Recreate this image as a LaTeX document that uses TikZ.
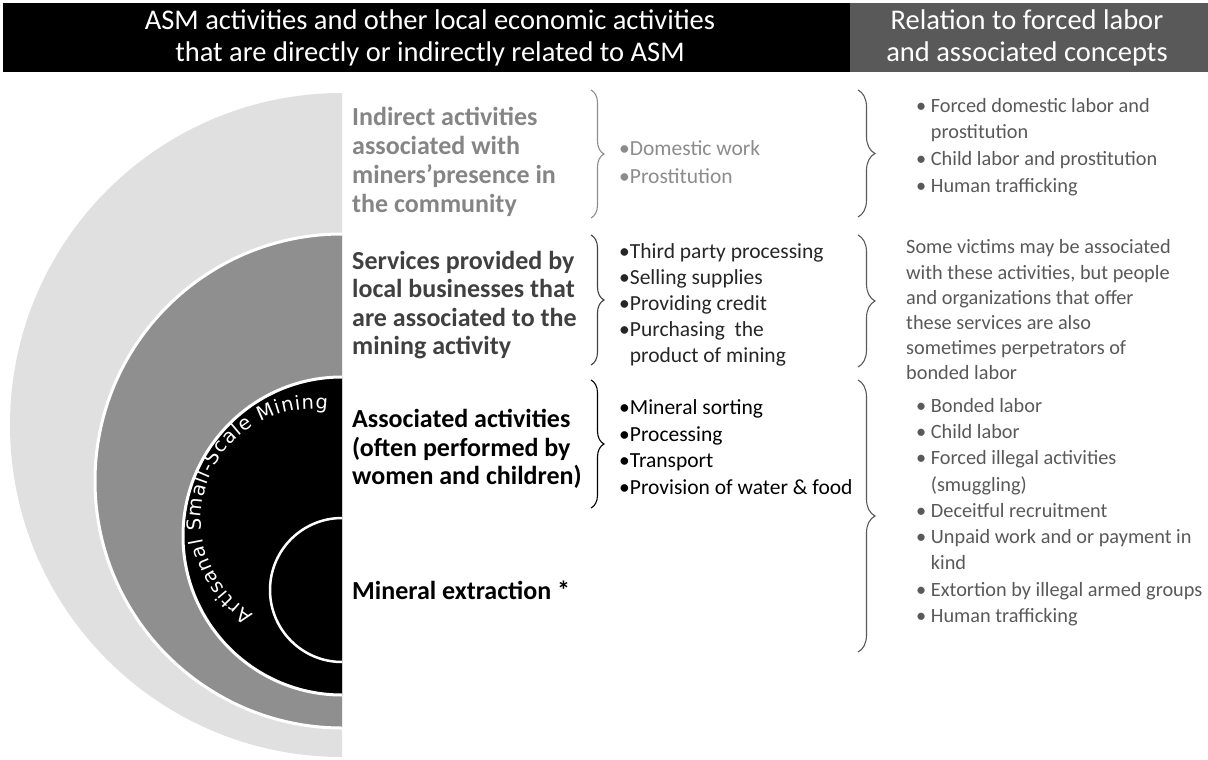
\documentclass[tikz,border=0pt]{standalone}
\usepackage{fontspec}
\setmainfont{Carlito}
\newfontfamily\arcfont{DejaVu Sans}
\usetikzlibrary{decorations.pathreplacing,decorations.text}
\definecolor{ringlight}{HTML}{E0E0E0}
\definecolor{ringmid}{HTML}{8F8F8F}
\definecolor{headgrey}{HTML}{595959}
\definecolor{txtlight}{HTML}{8C8C8C}
\definecolor{txtmid}{HTML}{858585}
\definecolor{txtdark}{HTML}{404040}
\definecolor{txtright}{HTML}{595959}
\newcommand{\arcstyle}{\arcfont\fontsize{19.5}{19.5}\selectfont}
\tikzset{
  ringedge/.style={draw=white, line width=3pt},
  bracket/.style={decorate, decoration={brace, amplitude=#1}, line width=1.1pt},
  headtext/.style={text=white, align=center, inner sep=0pt, font=\fontsize{28.5}{32}\selectfont},
  lefthead/.style={anchor=west, align=left, inner sep=0pt, font=\bfseries\fontsize{26}{#1}\selectfont},
  midlist/.style={anchor=west, align=left, inner sep=0pt, font=\fontsize{21.5}{#1}\selectfont},
  rightlist/.style={anchor=west, align=left, inner sep=0pt, text=txtright, font=\fontsize{20.3}{#1}\selectfont},
}
\begin{document}
\begin{tikzpicture}[x=1pt,y=1pt]
	\useasboundingbox (0,0) rectangle (1208,-760);
	% header bands
	\fill (3,-3) rectangle (850,-72);
	\fill[headgrey] (850,-3) rectangle (1208,-72);
	\node[headtext] (hleft) at (430,-38) {ASM activities and other local economic activities\\that are directly or indirectly related to ASM};
	\node[headtext] (hright) at (1027,-38) {Relation to forced labor\\and associated concepts};

	% half rings
	\fill[ringlight] (342,-93) arc[start angle=90, end angle=270, radius=332] -- cycle;
	\fill[ringmid] (342,-234) arc[start angle=90, end angle=270, radius=247] -- cycle;
	\draw[ringedge] (342,-234) arc[start angle=90, end angle=270, radius=247];
	\fill[black] (342,-377) arc[start angle=90, end angle=270, radius=159] -- cycle;
	\draw[ringedge] (342,-377) arc[start angle=90, end angle=270, radius=159];
	\draw[white, line width=2.5pt] (342,-518) arc[start angle=90, end angle=270, radius=72];
	\path[decorate, decoration={text along path, text align=fit to path, text color=white,
		text={|\arcstyle|Artisanal Small-Scale Mining}}]
		(312,-520) ++(238:111) arc[start angle=238, end angle=82, radius=111];

	% left column
	\node[lefthead=29, text=txtmid] (indirect) at (352,-162) {Indirect activities\\associated with\\miners'presence in\\the community};
	\node[lefthead=28.5, text=txtdark] (services) at (352,-305) {Services provided by\\local businesses that\\are associated to the\\mining activity};
	\node[lefthead=28.5] (assoc) at (352,-449) {Associated activities\\(often performed by\\women and children)};
	\node[lefthead=28.5] (extract) at (352,-590) {Mineral extraction *};

	% braces
	\draw[bracket=13pt, txtlight] (591,-90) -- (591,-218);
	\draw[bracket=13pt, txtdark] (591,-235) -- (591,-365);
	\draw[bracket=13pt] (591,-380) -- (591,-508);
	\draw[bracket=17pt, txtright] (858,-90) -- (858,-217);
	\draw[bracket=17pt, txtright] (858,-235) -- (858,-367);
	\draw[bracket=17pt, txtright] (858,-380) -- (858,-652);

	% middle column
	\node[midlist=28, text=txtlight] (indlist) at (619,-162) {•Domestic work\\•Prostitution};
	\node[midlist=26, text=black!85] (svclist) at (619,-305) {•Third party processing\\•Selling supplies\\•Providing credit\\•Purchasing~ the\\\phantom{•}product of mining};
	\node[midlist=26.7] (assoclist) at (619,-447) {•Mineral sorting\\•Processing\\•Transport\\•Provision of water \& food};

	% right column
	\node[rightlist=26.7] (indrel) at (916,-147) {•~Forced domestic labor and\\\phantom{•~}prostitution\\•~Child labor and prostitution\\•~Human trafficking};
	\node[rightlist=25.2] (svcrel) at (906,-310) {Some victims may be associated\\with these activities, but people\\and organizations that offer\\these services are also\\sometimes perpetrators of\\bonded labor};
	\node[rightlist=26.25] (assocrel) at (916,-512) {•~Bonded labor\\•~Child labor\\•~Forced illegal activities\\\phantom{•~}(smuggling)\\•~Deceitful recruitment\\•~Unpaid work and or payment in\\\phantom{•~}kind\\•~Extortion by illegal armed groups\\•~Human trafficking};
\end{tikzpicture}
\end{document}
